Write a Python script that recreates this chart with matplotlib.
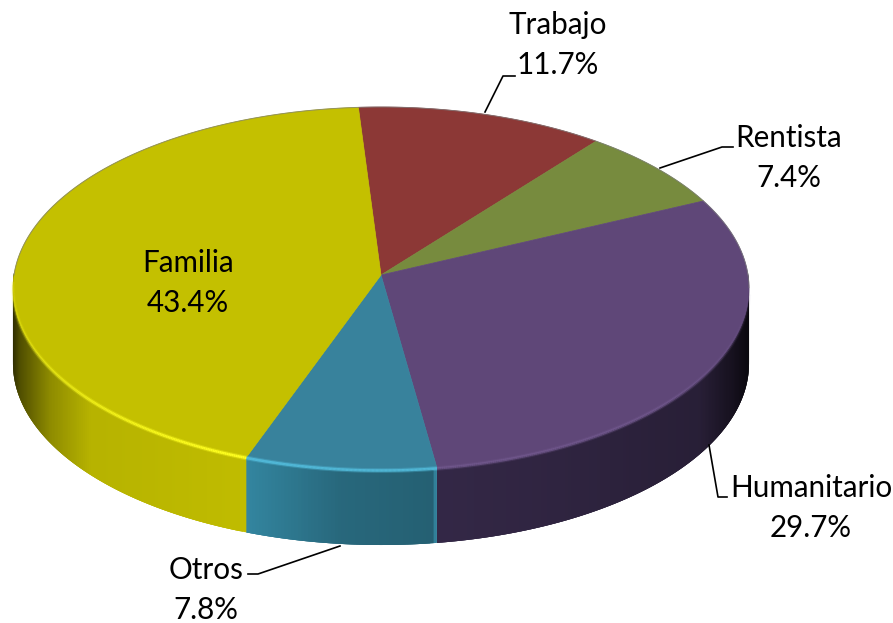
import numpy as np
import matplotlib
matplotlib.use("Agg")
import matplotlib.pyplot as plt
from matplotlib.collections import PolyCollection, LineCollection
from matplotlib.colors import to_rgb
from matplotlib.patches import Polygon

categories = ["Trabajo", "Rentista", "Humanitario", "Otros", "Familia"]
values = [11.7, 7.4, 29.7, 7.8, 43.4]
top_colors = ["#8c3836", "#778b3e", "#5f4778", "#38829c", "#c4c000"]
side_colors = ["#5a2423", "#4c5a28", "#2f2440", "#33859f", "#c0bc00"]
rim_colors = ["#8c3836", "#778b3e", "#775d94", "#55c0e0", "#ffff20"]
rim_alpha = [0, 0, 0.7, 1, 1]

label_xy = {"Trabajo": (558, 45), "Rentista": (789, 158), "Humanitario": (811, 508),
            "Otros": (206, 590), "Familia": (188, 283)}
leaders = {"Trabajo": [(485, 112), (503, 76), (515, 76)],
           "Rentista": [(660, 168), (722, 147), (733, 147)],
           "Humanitario": [(709, 445), (718, 497), (727, 497)],
           "Otros": [(340, 546), (258, 574), (248, 574)]}

CX, CY, R, A, K, DEPTH = 381, 275, 367, 180.5, 0.0744, 75
START = -3.8
shade_x = [12, 20, 50, 90, 248, 340, 434, 436, 560, 700, 735, 748]
shade_f = [.22, .42, .74, .95, 1, .78, .72, 1.1, 1, .85, .45, .22]


def project(theta_deg):
    t = np.radians(theta_deg)
    u, v = np.sin(t), np.cos(t)
    d = 1 + K * v
    return CX + R * u / d, CY - A * v / d


fig = plt.figure(figsize=(8.93, 6.23), dpi=100)
ax = fig.add_axes([0, 0, 1, 1])
ax.set_xlim(0, 893)
ax.set_ylim(623, 0)
ax.axis("off")

edges = START + np.concatenate([[0], np.cumsum(values)]) * 3.6

# side wall: overlapping opaque strips, painted so each covers the seam of the last
for i in range(len(values)):
    a0, a1 = max(edges[i], 90), min(edges[i + 1], 270)
    if a1 <= a0:
        continue
    th = np.linspace(a0, a1, int((a1 - a0) * 2) + 2)
    x, y = project(th)
    polys, cols = [], []
    base = np.array(to_rgb(side_colors[i]))
    n = len(th) - 1
    for j in range(n):
        k = min(j + 3, n)
        polys.append(list(zip(x[j:k + 1], y[j:k + 1] - 2)) +
                     list(zip(x[j:k + 1][::-1], y[j:k + 1][::-1] + DEPTH)))
        f = np.interp((x[j] + x[j + 1]) / 2, shade_x, shade_f)
        cols.append(np.clip(base * f, 0, 1))
    ax.add_collection(PolyCollection(polys, facecolors=cols, edgecolors="none",
                                     linewidths=0, zorder=2 + i * 0.01))

# top surface
for i in range(len(values)):
    th = np.linspace(edges[i], edges[i + 1], 200)
    x, y = project(th)
    pts = [(CX, CY)] + list(zip(x, y))
    ax.add_patch(Polygon(pts, closed=True, facecolor=top_colors[i],
                         edgecolor=top_colors[i], linewidth=0.5, zorder=3))

# outline of back edge
th = np.linspace(-90, 94, 400)
x, y = project(th)
ax.plot(x, y, color="#7a7a7a", lw=0.7, alpha=0.7, zorder=4)

# rim highlight
for i in range(len(values)):
    if rim_alpha[i] == 0:
        continue
    a0, a1 = max(edges[i], 96), min(edges[i + 1], 268)
    if a1 <= a0:
        continue
    th = np.linspace(a0, a1, 240)
    x, y = project(th)
    y = y + 0.5
    segs = [[(x[j], y[j]), (x[j + 1], y[j + 1])] for j in range(len(th) - 1)]
    rgb = to_rgb(rim_colors[i])
    fade = np.interp(th[:-1], [96, 135, 200, 268], [0.1, 0.9, 1, 0.15]) * rim_alpha[i]
    for lw, mult in ((3.4, 0.35), (1.8, 1.0)):
        cols = [(*rgb, float(f * mult)) for f in fade]
        ax.add_collection(LineCollection(segs, colors=cols, linewidths=lw, zorder=5,
                                         capstyle="butt"))

# leader lines
for name, pts in leaders.items():
    ax.plot(*zip(*pts), color="black", lw=1.2, zorder=6, solid_joinstyle="round")

# labels
for name, val in zip(categories, values):
    lx, ly = label_xy[name]
    ax.text(lx, ly, f"{name}\n{val:.1f}%", ha="center", va="center", fontsize=21.3,
            family="Lato", color="black", linespacing=1.52, zorder=7)

fig.savefig("out.png", dpi=100)
